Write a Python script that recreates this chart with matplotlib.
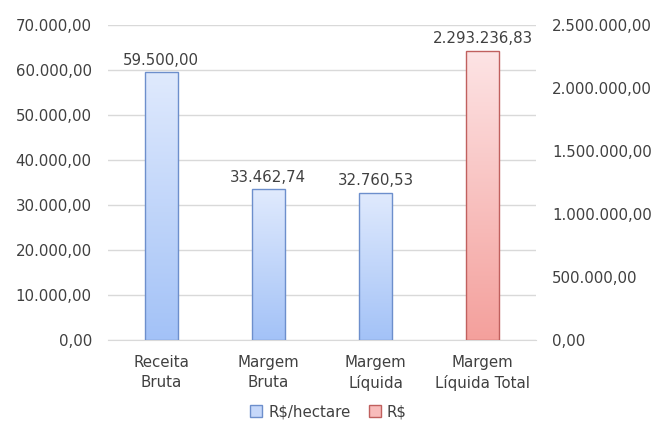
import matplotlib
matplotlib.use("Agg")
import matplotlib.pyplot as plt
import numpy as np
from matplotlib.colors import LinearSegmentedColormap
from matplotlib.patches import Patch

categories = ["Receita\nBruta", "Margem\nBruta", "Margem\nLíquida", "Margem\nLíquida Total"]
ha_values = [59500.00, 33462.74, 32760.53]
total_values = [2293236.83]
left_ticks = np.arange(0, 70001, 10000)
right_ticks = np.arange(0, 2500001, 500000)


def br(v):
    s = f"{v:,.2f}"
    return s.replace(",", "X").replace(".", ",").replace("X", ".")


plt.rcParams['font.family'] = ['DejaVu Sans']
txt = "#404040"
fs = 10.8

fig = plt.figure(figsize=(6.57, 4.21), dpi=100)
ax1 = fig.add_axes([0.164, 0.192, 0.652, 0.749])
ax2 = ax1.twinx()

blue = LinearSegmentedColormap.from_list("b", ["#a3c2f7", "#e0eafd"])
red = LinearSegmentedColormap.from_list("r", ["#f4a09c", "#fde4e5"])
grad = np.linspace(0, 1, 256).reshape(-1, 1)

x = np.arange(len(categories))
w = 0.31


def gradient_bars(ax, xs, vals, cmap, edge):
    bars = ax.bar(xs, vals, width=w, color="none", edgecolor=edge, linewidth=1.0, zorder=3)
    for b in bars:
        x0, y0 = b.get_x(), b.get_y()
        im = ax.imshow(grad, cmap=cmap, origin="lower", aspect="auto",
                       extent=[x0, x0 + b.get_width(), y0, y0 + b.get_height()], zorder=2)
        im.set_clip_path(b)
    return bars


b1 = gradient_bars(ax1, x[:3], ha_values, blue, "#6d8fcc")
b2 = gradient_bars(ax2, x[3:], total_values, red, "#c0605e")

ax1.set_xlim(-0.5, 3.5)
ax1.set_ylim(0, 70000)
ax2.set_ylim(0, 2500000)
ax1.set_yticks(left_ticks)
ax1.set_yticklabels([br(v) for v in left_ticks])
ax2.set_yticks(right_ticks)
ax2.set_yticklabels([br(v) for v in right_ticks])
ax1.set_xticks(x)
ax1.set_xticklabels(categories, linespacing=1.35)

ax1.grid(axis="y", color="#d9d9d9", linewidth=1.0, zorder=0)
ax1.set_axisbelow(True)
for ax in (ax1, ax2):
    for s in ax.spines.values():
        s.set_visible(False)
    ax.tick_params(length=0, labelsize=fs, colors=txt)
ax1.tick_params(axis="y", pad=11.5)
ax2.tick_params(axis="y", pad=11.5)
ax1.tick_params(axis="x", pad=11)
ax1.spines["bottom"].set_visible(True)
ax1.spines["bottom"].set_color("#d9d9d9")

for xi, v in zip(x[:3], ha_values):
    ax1.text(xi, v + 1000, br(v), ha="center", va="bottom", fontsize=fs, color=txt)
ax2.text(x[3], total_values[0] + 36000, br(total_values[0]), ha="center", va="bottom",
         fontsize=fs, color=txt)

handles = [Patch(facecolor="#c6d8fa", edgecolor="#6d8fcc", label="R$/hectare"),
           Patch(facecolor="#f8bcbb", edgecolor="#c0605e", label="R$")]
fig.legend(handles=handles, loc="center", bbox_to_anchor=(0.5, 0.022), ncol=2,
           frameon=False, fontsize=fs, handlelength=0.8, handleheight=0.8,
           handletextpad=0.4, columnspacing=1.2, labelcolor=txt)

fig.savefig("out.png", dpi=100)
